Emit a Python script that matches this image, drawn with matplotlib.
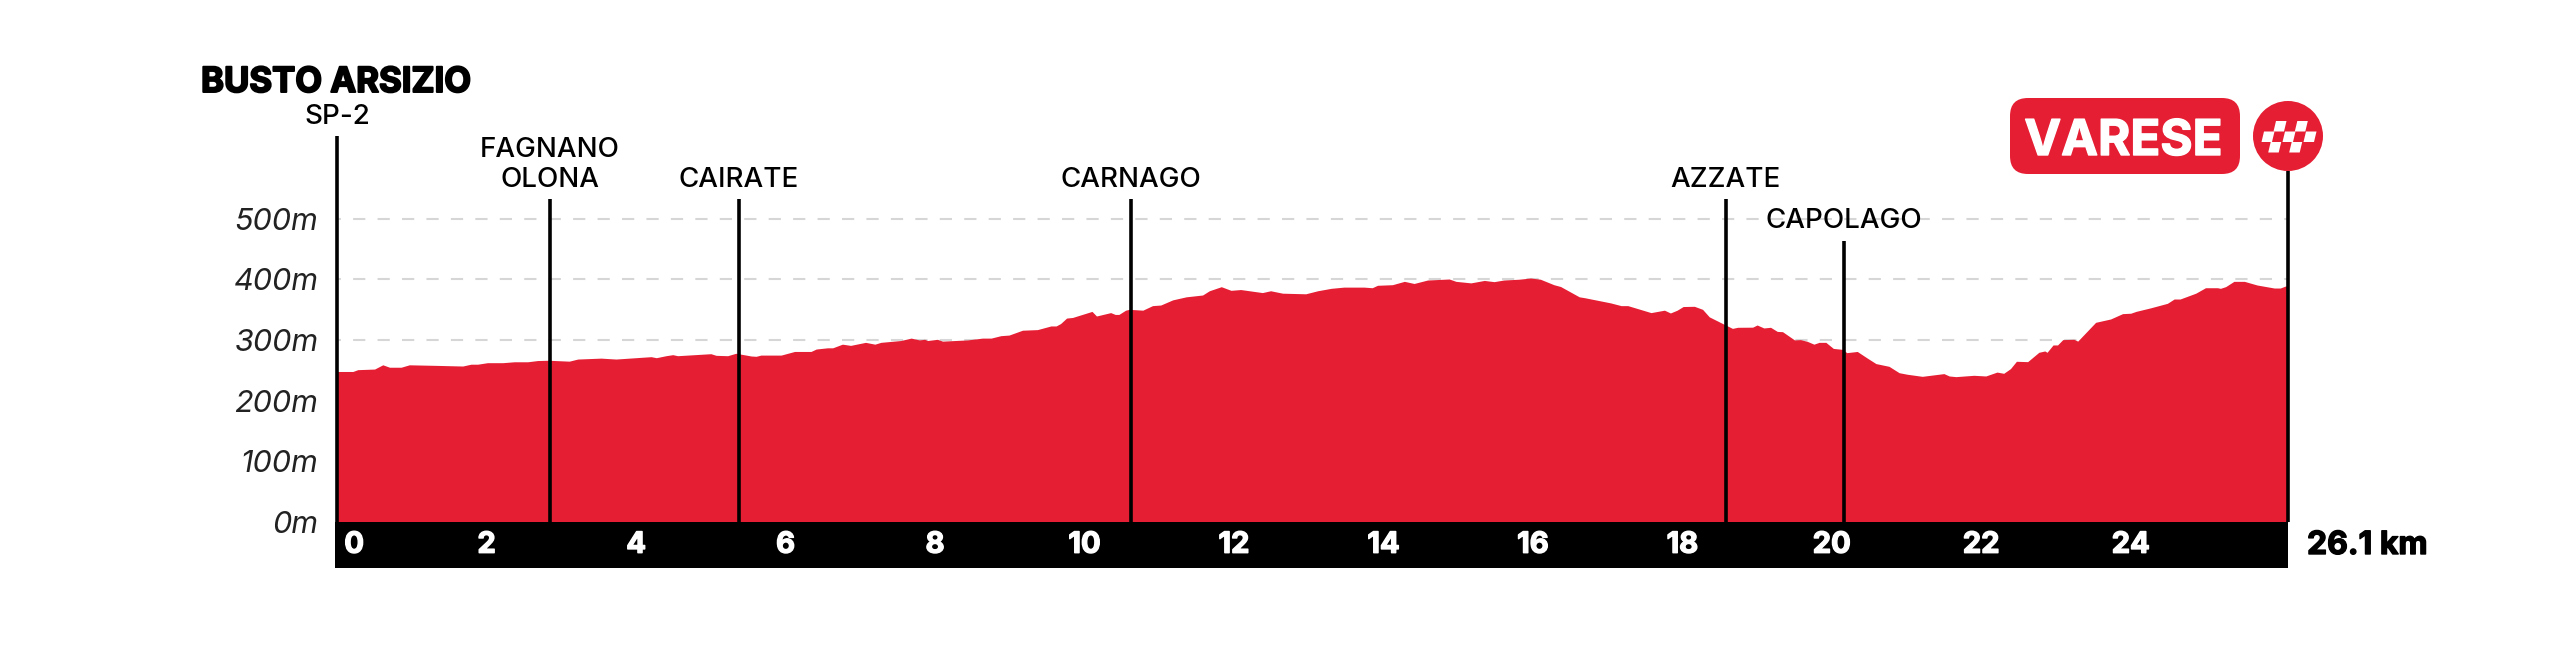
import matplotlib
matplotlib.use("Agg")
import matplotlib.pyplot as plt
import matplotlib.patheffects as pe
from matplotlib.patches import Rectangle, FancyBboxPatch, Circle, Polygon
from matplotlib.transforms import ScaledTranslation

# profilo altimetrico
km = [0, 0.21, 0.275, 0.5, 0.61, 0.7, 0.855, 0.965, 1.345, 1.68, 1.79, 1.88, 2.01, 2.215, 2.37, 2.55, 2.68, 2.825,
      3.105, 3.22, 3.53, 3.73, 4.2, 4.27, 4.4, 4.49, 4.555, 5.0, 5.07, 5.225, 5.335, 5.54, 5.605, 5.67, 5.94, 6.12,
      6.34, 6.41, 6.56, 6.63, 6.76, 6.87, 7.07, 7.195, 7.275, 7.54, 7.68, 7.79, 7.86, 7.9, 8.03, 8.1, 8.435, 8.635,
      8.75, 8.88, 8.99, 9.17, 9.37, 9.55, 9.62, 9.68, 9.76, 9.84, 10.1, 10.16, 10.35, 10.41, 10.46, 10.55, 10.6,
      10.78, 10.91, 11.02, 11.18, 11.36, 11.58, 11.67, 11.83, 11.96, 12.09, 12.38, 12.49, 12.65, 12.96, 13.12,
      13.3, 13.47, 13.74, 13.85, 13.92, 14.12, 14.28, 14.41, 14.59, 14.88, 14.97, 15.17, 15.35, 15.48, 15.61,
      15.81, 15.97, 16.1, 16.28, 16.37, 16.62, 16.69, 17.04, 17.18, 17.27, 17.58, 17.76, 17.84, 17.93, 18.01,
      18.16, 18.27, 18.36, 18.56, 18.67, 18.74, 18.94, 19.0, 19.09, 19.18, 19.27, 19.34, 19.5, 19.58, 19.67,
      19.76, 19.83, 19.92, 20.02, 20.14, 20.2, 20.34, 20.475, 20.59, 20.765, 20.9, 21.01, 21.21, 21.5, 21.57,
      21.66, 21.9, 22.06, 22.21, 22.3, 22.39, 22.47, 22.62, 22.77, 22.85, 22.88, 22.96, 23.02, 23.09, 23.24,
      23.29, 23.53, 23.73, 23.89, 24.0, 24.07, 24.27, 24.49, 24.58, 24.66, 24.87, 25.0, 25.16, 25.2, 25.27,
      25.38, 25.52, 25.69, 25.92, 26.0, 26.07, 26.1]
elev = [248, 248, 251, 252, 259, 255, 255, 259, 258, 257, 260, 260, 262.5, 262.5, 264, 264, 266, 266.5,
        265, 268.5, 270, 268.5, 272.4, 270.7, 274, 275.7, 274, 277.3, 274.6, 274, 278, 273.5, 273, 275, 275, 281,
        281, 285, 287, 287, 293, 291, 296, 293, 296, 299, 303, 300, 301, 299, 301, 298, 300, 303,
        303, 307, 308, 316, 317, 323, 323, 327, 336, 337, 347, 339.4, 345, 342, 342, 349, 350.4,
        349, 356.5, 357.5, 366, 371, 374, 381, 387.7, 381.7, 383, 378, 381, 377, 376, 381,
        385, 387, 387, 386, 390, 391, 396.5, 393, 398.7, 400.4, 396.5, 394, 398, 396, 398.7,
        400, 402, 400, 391, 388, 371, 369.6, 361, 356.5, 356.5, 345, 349, 344.4, 349, 355,
        355.4, 350.4, 338, 325.7, 319, 320.8, 321, 324.6, 319.7, 320.8, 314, 313.6, 300, 300.5, 297.7,
        293, 296, 296, 286, 284.5, 279, 281, 270, 261, 256.5, 246, 243.4, 240, 244.5, 240.6,
        239.5, 241.7, 240.6, 247, 245, 252.7, 264.8, 264.2, 279.6, 281.8, 279.6, 291.7, 291.7, 300.5, 301,
        298, 329, 334.5, 343.3, 344, 347, 353, 360.3, 367.4, 367.4, 377, 386, 386, 385, 387.8,
        396.5, 396.5, 390.5, 385.5, 385.5, 388.8, 389]

y_ticks = [0, 100, 200, 300, 400, 500]
x_ticks = [0, 2, 4, 6, 8, 10, 12, 14, 16, 18, 20, 22, 24]
total_km = 26.1

# localita': nome, km, quota dove finisce la linea
towns = ["FAGNANO\nOLONA", "CAIRATE", "CARNAGO", "AZZATE", "CAPOLAGO", "SP-2"]
town_km = [2.85, 5.37, 10.62, 18.58, 20.16, 0]
town_top = [532, 532, 532, 532, 463, 636]

RED = "#E61E33"
W, H = 2560, 646
FONT = "Inter"
plt.rcParams["lines.scale_dashes"] = False
plt.rcParams["font.family"] = [FONT, "DejaVu Sans"]

fig = plt.figure(figsize=(W / 100, H / 100), dpi=100)
ax = fig.add_axes([337.2 / W, (H - 522) / H, 1950.5 / W, 386 / H])
ax.set_xlim(0, total_km)
ax.set_ylim(0, 636)
for s in ax.spines.values():
    s.set_visible(False)
ax.patch.set_visible(False)
ax.set_axisbelow(False)

# griglia tratteggiata
for v in y_ticks[3:]:
    ax.plot([0, total_km], [v, v], color="#d6d6d6", lw=1.5, linestyle=(6, (8.8, 8.8)), zorder=1)

ax.fill_between(km, elev, 0, color=RED, lw=0, zorder=2)

# banda nera in basso
ax.add_patch(Rectangle((-0.03, -75), total_km + 0.04, 75, color="black", lw=0, clip_on=False, zorder=2.2))

# assi
ax.set_yticks(y_ticks)
ax.set_yticklabels([f"{v}m" for v in y_ticks], fontsize=22, style="italic", color="#222222", fontweight="normal")
ax.tick_params(axis="y", length=0, pad=13.5)
ax.set_xticks(x_ticks)
ax.set_xticklabels([str(v) for v in x_ticks], fontsize=21, fontweight="bold", color="white")
ax.tick_params(axis="x", length=0, pad=7)
for lab in ax.get_xticklabels():
    lab.set_path_effects([pe.withStroke(linewidth=1, foreground="white")])
ax.get_xticklabels()[0].set_transform(
    ax.get_xticklabels()[0].get_transform() + ScaledTranslation(0.17, 0, fig.dpi_scale_trans))

# linee verticali e nomi
for name, k, top in zip(towns, town_km, town_top):
    ax.plot([k, k], [0, top], color="black", lw=2.6, solid_capstyle="butt", clip_on=False, zorder=4)
    for i, line in enumerate(reversed(name.split("\n"))):
        ax.annotate(line, (k, top), xytext=(0, 9 + i * 21.6), textcoords="offset points", ha="center",
                    va="baseline", fontsize=20, color="black", fontweight="medium", annotation_clip=False)
ax.plot([total_km, total_km], [0, 578], color="black", lw=2.6, solid_capstyle="butt", clip_on=False, zorder=4)

# testi e logo in pixel
pix = fig.add_axes([0, 0, 1, 1])
pix.set_xlim(0, W)
pix.set_ylim(H, 0)
pix.axis("off")
pix.text(201, 92, "BUSTO ARSIZIO", fontsize=25, fontweight="bold", color="black", va="baseline",
         path_effects=[pe.withStroke(linewidth=1.4, foreground="black")])
pix.text(2307, 554, "26.1 km", fontsize=23, fontweight="bold", color="black", va="baseline",
         path_effects=[pe.withStroke(linewidth=1, foreground="black")])

pix.add_patch(FancyBboxPatch((2025, 113), 200, 46, boxstyle="round,pad=15,rounding_size=18", fc=RED, ec="none"))
pix.text(2123.5, 155, "VARESE", fontsize=35.5, fontweight="bold", color="white", ha="center", va="baseline",
         path_effects=[pe.withStroke(linewidth=1, foreground="white")])
pix.add_patch(Circle((2288, 136), 35, fc=RED, ec="none"))

# bandiera a scacchi
cells = [(2276, 121), (2297.3, 121), (2264, 131.5), (2285, 131.5), (2306, 131.5), (2270.7, 142), (2291.7, 142)]
for x, y in cells:
    pix.add_patch(Polygon([(x, y), (x + 10.5, y), (x + 8, y + 10.5), (x - 2.5, y + 10.5)], fc="white", ec="none"))

fig.savefig("out.png", dpi=100, facecolor="white")
